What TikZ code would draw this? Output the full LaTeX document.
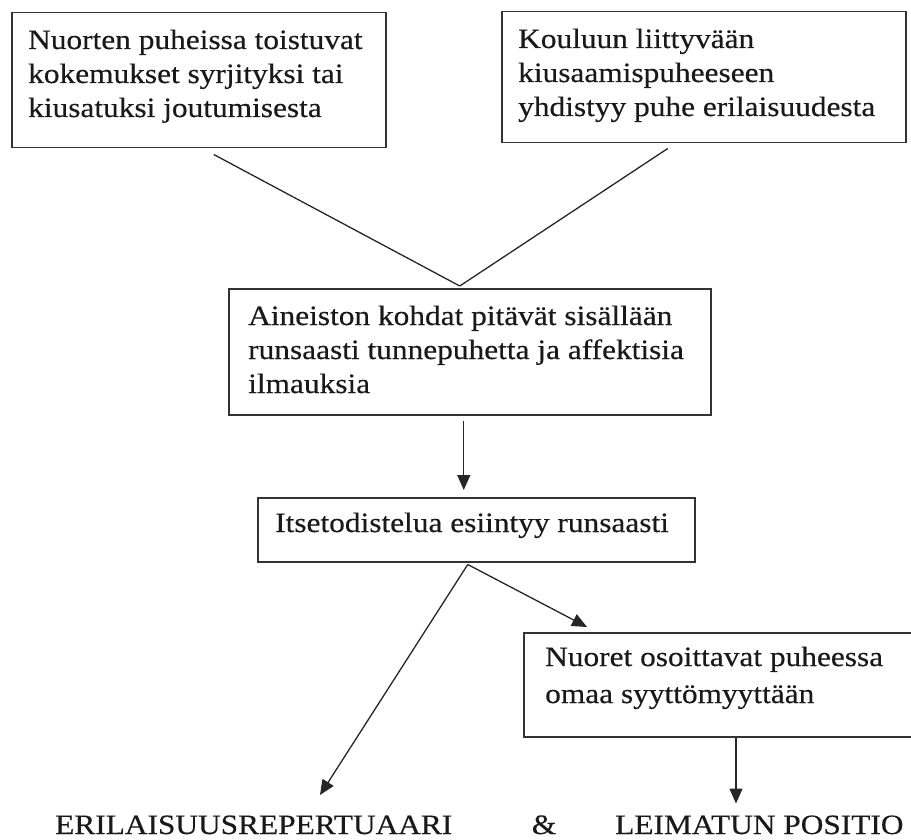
\documentclass[tikz,border=0pt]{standalone}
\usepackage{fontspec}
\setmainfont{Liberation Serif}[FakeStretch=1.12,FakeBold=0.4]
\usetikzlibrary{arrows.meta,calc}
\tikzset{
  boxst/.style={draw=black!80, line width=1.5pt, rectangle, inner sep=0pt, anchor=north west},
  txt/.style={inner sep=0pt, anchor=base west, text=black!90, font=\fontsize{28}{34}\selectfont},
  lbl/.style={txt, text depth=0pt},
  conn/.style={draw=black!85, line width=1.3pt},
  arr/.style={conn, -{Triangle[length=15pt,width=13pt]}}
}
\newcommand{\boxtext}[1]{\parbox[t]{600pt}{#1}}
\begin{document}
\begin{tikzpicture}[x=1pt,y=-1pt]
\useasboundingbox (0,0) rectangle (911,840);
\clip (0,0) rectangle (911,840);
% boxes
\node[boxst, minimum width=374pt, minimum height=135pt] (b1) at (11,12) {};
\node[boxst, minimum width=404pt, minimum height=131pt] (b2) at (501,11) {};
\node[boxst, minimum width=482pt, minimum height=126pt] (b3) at (228,288) {};
\node[boxst, minimum width=437pt, minimum height=64pt] (b4) at (257,497) {};
\node[boxst, minimum width=420pt, minimum height=104pt] (b5) at (523,632) {};
% texts
\node[txt] (t1) at ([xshift=17pt,yshift=-37pt]b1.north west) {\boxtext{Nuorten puheissa toistuvat\\kokemukset syrjityksi tai\\kiusatuksi joutumisesta}};
\node[txt] (t2) at ([xshift=17pt,yshift=-37pt]b2.north west) {\boxtext{Kouluun liittyvään\\kiusaamispuheeseen\\yhdistyy puhe erilaisuudesta}};
\node[txt] (t3) at ([xshift=20pt,yshift=-37pt]b3.north west) {\boxtext{Aineiston kohdat pitävät sisällään\\runsaasti tunnepuhetta ja affektisia\\ilmauksia}};
\node[txt] (t4) at ([xshift=18pt,yshift=-35pt]b4.north west) {Itsetodistelua esiintyy runsaasti};
\node[txt, font=\fontsize{28}{37}\selectfont] (t5) at ([xshift=22pt,yshift=-34pt]b5.north west) {\boxtext{Nuoret osoittavat puheessa\\omaa syyttömyyttään}};
% bottom labels
\node[lbl] (r1) at (55,834) {ERILAISUUSREPERTUAARI};
\node[lbl, anchor=base] (amp) at (544,834) {\&};
\node[lbl] (r2) at (615,834) {LEIMATUN POSITIO};
% connectors
\coordinate (m) at ([xshift=-10pt,yshift=2pt]b3.north);
\draw[conn] ([xshift=15pt,yshift=-6pt]b1.south) -- (m);
\draw[conn] ([xshift=-36pt,yshift=-5pt]b2.south) -- (m);
\draw[arr] ([xshift=-6pt,yshift=-5pt]b3.south) -- ([xshift=-12.5pt,yshift=7pt]b4.north);
\coordinate (s) at ([xshift=-8.5pt,yshift=-2pt]b4.south);
\coordinate (e1) at (320,795);
\draw[arr] (s) -- (e1);
\draw[arr] (s) -- ([xshift=64pt,yshift=5pt]b5.north west);
\draw[arr] ([xshift=213pt]b5.south west) -- ([xshift=213pt,yshift=-66pt]b5.south west);
\end{tikzpicture}
\end{document}
